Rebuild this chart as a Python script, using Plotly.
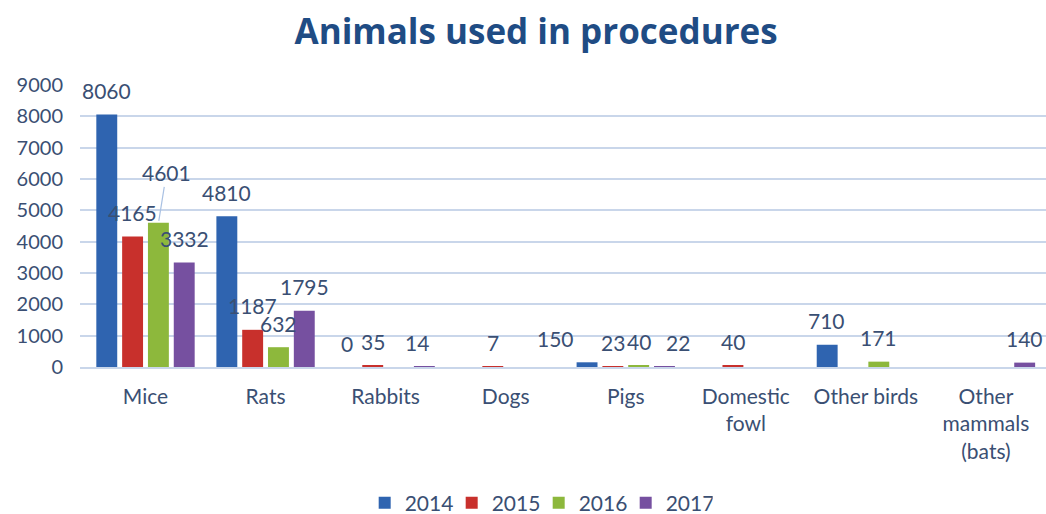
import plotly.graph_objects as go

categories = ["Mice", "Rats", "Rabbits", "Dogs", "Pigs", "Domestic<br>fowl", "Other birds", "Other<br>mammals<br>(bats)"]
years = ["2014", "2015", "2016", "2017"]
v2014 = [8060, 4810, 0, None, 150, None, 710, None]
v2015 = [4165, 1187, 35, 7, 23, 40, None, None]
v2016 = [4601, 632, None, None, 40, None, 171, None]
v2017 = [3332, 1795, 14, None, 22, None, None, 140]
series = [v2014, v2015, v2016, v2017]
colors = ["#2F64B0", "#C8302C", "#8DB83C", "#7650A0"]

y_ticks = [0, 1000, 2000, 3000, 4000, 5000, 6000, 7000, 8000, 9000]

FONT = "Lato"
TXT = "#3A4F73"

# label nudges (pixels) for crowded labels: (series index, category index) -> (dx, dy)
nudges = {(0, 4): (-31, 0), (3, 4): (13, 0), (3, 2): (-8, 0)}
callout = (2, 0)  # label drawn with a leader line

fig = go.Figure()
for name, vals, col in zip(years, series, colors):
    fig.add_trace(go.Bar(
        name=name, x=categories, y=vals, marker=dict(color=col, line=dict(width=0)),
    ))

offsets = [-39, -13, 13, 39]
annotations = []
for si, vals in enumerate(series):
    for ci, v in enumerate(vals):
        if v is None:
            continue
        dx, dy = nudges.get((si, ci), (0, 0))
        if (si, ci) == callout:
            annotations.append(dict(
                x=categories[ci], y=v, xref="x", yref="y", text=str(v),
                xshift=offsets[si], showarrow=True, arrowhead=0, arrowwidth=1.2,
                arrowcolor="#A9C1E3", ax=8, ay=-50, standoff=2,
                font=dict(family=FONT, size=21, color=TXT),
            ))
        else:
            annotations.append(dict(
                x=categories[ci], y=v, xref="x", yref="y", text=str(v),
                xshift=offsets[si] + dx, yshift=24 + dy, showarrow=False,
                yanchor="middle", xanchor="center",
                font=dict(family=FONT, size=21, color=TXT),
            ))

fig.update_layout(
    width=1046, height=514,
    margin=dict(l=80, r=0, t=85, b=147),
    paper_bgcolor="white", plot_bgcolor="white",
    barmode="group", bargap=0.14, bargroupgap=0.19,
    title=dict(text="<b>Animals used in procedures</b>", x=0.5125, xref="container",
               xanchor="center", y=0.938, yref="container", yanchor="middle",
               font=dict(family="Open Sans", size=35, color="#1F4C84")),
    font=dict(family=FONT, size=21, color=TXT),
    legend=dict(orientation="h", x=0.515, xref="container", xanchor="center",
                y=0.021, yref="container", yanchor="middle",
                font=dict(family=FONT, size=21, color=TXT), itemwidth=30,
                entrywidth=42, traceorder="normal"),
    annotations=annotations,
    showlegend=True,
)
fig.update_xaxes(showgrid=False, showline=True, linecolor="#C9D6EA", linewidth=1.5,
                 ticks="", tickfont=dict(family=FONT, size=21, color=TXT),
                 ticklabelstandoff=10, fixedrange=True)
fig.update_yaxes(range=[0, 9000], tickvals=y_ticks, showgrid=True, gridcolor="#C9D6EA",
                 gridwidth=1.5, zeroline=False, showline=False, ticks="",
                 tickfont=dict(family=FONT, size=20, color=TXT),
                 ticklabelstandoff=16, fixedrange=True)

fig.write_html("out.html", config={"displayModeBar": False},
               post_script="document.body.style.margin='0';")
